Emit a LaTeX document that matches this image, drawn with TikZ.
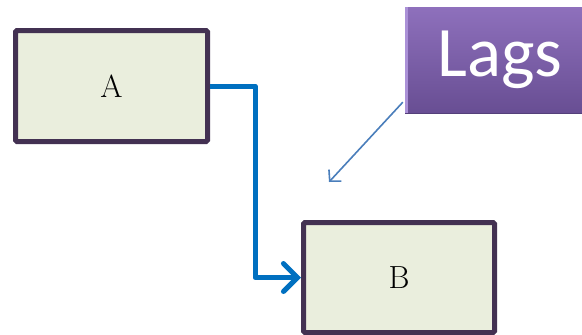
\documentclass[tikz,border=0pt]{standalone}
\usepackage{fontspec}
\usetikzlibrary{arrows.meta,calc}
\newfontfamily\labelfont{Carlito}
\definecolor{boxedge}{HTML}{433152}
\definecolor{boxfill}{HTML}{EAEEDD}
\definecolor{linkblue}{HTML}{0070C0}
\definecolor{noteblue}{HTML}{4A7EBB}
\definecolor{lagtop}{HTML}{8E70BC}
\definecolor{lagbot}{HTML}{684E93}
\definecolor{lagrim}{HTML}{B89FE2}
\definecolor{lagdark}{HTML}{54407A}
\tikzset{
  taskbox/.style={draw=boxedge, fill=boxfill, line width=5pt, rounded corners=1.5pt,
    minimum width=192pt, minimum height=111pt, inner sep=0pt,
    font=\fontsize{32}{32}\selectfont},
  tagbox/.style={shading=axis, top color=lagtop, bottom color=lagbot, inner sep=0pt,
    minimum width=190pt, minimum height=106pt, text=white,
    font=\labelfont\fontsize{71}{71}\selectfont,
    path picture={
      \fill[lagrim] (path picture bounding box.north west) rectangle
        ([yshift=3.5pt]path picture bounding box.north east);
      \fill[lagrim!70!lagtop] (path picture bounding box.north west) rectangle
        ([xshift=3pt]path picture bounding box.south west);
      \fill[lagdark] (path picture bounding box.south west) rectangle
        ([yshift=-3pt]path picture bounding box.south east);
    }},
  link/.style={draw=linkblue, line width=5pt, line join=round,
    -{Straight Barb[length=14pt,width=28pt,line cap=round]}},
  note/.style={draw=noteblue, line width=1.6pt,
    -{Straight Barb[length=8pt,width=17pt]}}
}
\begin{document}
\begin{tikzpicture}[x=1pt,y=-1pt]
  \useasboundingbox (0,0) rectangle (582,335);
  \node[taskbox] (A) at (111.5,86) {A};
  \node[taskbox, minimum width=191pt, minimum height=110pt] (B) at (399,277.5) {B};
  \node[tagbox] (L) at (500,60) {Lags};
  % finish-to-start link from A to B
  \coordinate (bend) at (255,0);
  \draw[link] (A.east) -- (A.east -| bend) -- (bend |- B.west) -- (B.west);
  % pointer from the label towards the link
  \coordinate (tip) at (329,182);
  \draw[note] ($(L.south west)+(-2,-11)$) -- (tip);
\end{tikzpicture}
\end{document}
